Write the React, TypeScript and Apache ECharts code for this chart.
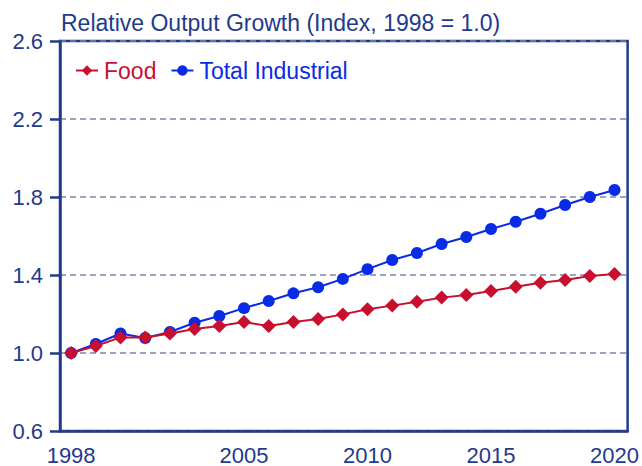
import React, { useEffect, useRef } from "react";
import * as echarts from "echarts";

const years = [1998, 1999, 2000, 2001, 2002, 2003, 2004, 2005, 2006, 2007, 2008, 2009, 2010, 2011, 2012, 2013, 2014, 2015, 2016, 2017, 2018, 2019, 2020];
const food = [1.0, 1.036, 1.08, 1.08, 1.1, 1.123, 1.138, 1.159, 1.138, 1.159, 1.174, 1.198, 1.224, 1.243, 1.263, 1.284, 1.297, 1.318, 1.34, 1.36, 1.374, 1.395, 1.405];
const industrial = [1.0, 1.046, 1.1, 1.077, 1.108, 1.155, 1.19, 1.23, 1.267, 1.306, 1.337, 1.38, 1.43, 1.477, 1.513, 1.559, 1.595, 1.636, 1.673, 1.714, 1.759, 1.8, 1.836];
const xTicks = [1998, 2005, 2010, 2015, 2020];
const titleText = "Relative Output Growth (Index, 1998 = 1.0)";

const NAVY = "#233A8B";
const RED = "#C8102E";
const BLUE = "#0A2BE6";
const FONT = "'Liberation Sans', Arial, sans-serif";

export default function App() {
  const ref = useRef<HTMLDivElement>(null);
  useEffect(() => {
    if (!ref.current) return;
    const chart = echarts.init(ref.current, null, { renderer: "svg" });
    chart.setOption({
      animation: false,
      title: {
        text: titleText,
        left: 56,
        top: 6,
        textStyle: { color: NAVY, fontSize: 23, fontWeight: "normal", fontFamily: FONT },
      },
      legend: {
        left: 70,
        top: 54,
        itemWidth: 22,
        itemHeight: 13,
        itemGap: 14,
        textStyle: { fontSize: 23, fontFamily: FONT, padding: [0, 0, 0, 1] },
        data: [
          { name: "Food", textStyle: { color: RED } },
          { name: "Total Industrial", textStyle: { color: BLUE } },
        ],
      },
      grid: {
        left: 60,
        right: 14,
        top: 41,
        bottom: 35,
        show: true,
        borderColor: NAVY,
        borderWidth: 2.5,
        containLabel: false,
      },
      xAxis: {
        type: "value",
        min: 1997.55,
        max: 2020.53,
        axisLine: { show: true, lineStyle: { color: NAVY, width: 2.5 } },
        axisTick: { show: false },
        splitLine: { show: false },
        axisLabel: {
          customValues: xTicks,
          color: NAVY,
          fontSize: 22,
          fontFamily: FONT,
          margin: 13,
          formatter: (v: number) => String(v),
        },
      },
      yAxis: {
        type: "value",
        min: 0.6,
        max: 2.6,
        interval: 0.4,
        axisLine: { show: true, lineStyle: { color: NAVY, width: 2.5 } },
        axisTick: { show: true, length: 10, lineStyle: { color: NAVY, width: 2.5 } },
        splitLine: { show: true, lineStyle: { color: "#7A86A8", type: [6, 4], width: 1.5 } },
        axisLabel: {
          color: NAVY,
          fontSize: 22,
          fontFamily: FONT,
          margin: 17,
          formatter: (v: number) => v.toFixed(1),
        },
      },
      series: [
        {
          name: "Food",
          type: "line",
          data: years.map((y, i) => [y, food[i]]),
          symbol: "diamond",
          symbolSize: 14,
          color: RED,
          lineStyle: { width: 2, color: RED },
          itemStyle: { color: RED },
          z: 3,
        },
        {
          name: "Total Industrial",
          type: "line",
          data: years.map((y, i) => [y, industrial[i]]),
          symbol: "circle",
          symbolSize: 12,
          color: BLUE,
          lineStyle: { width: 2, color: BLUE },
          itemStyle: { color: BLUE },
          z: 2,
        },
      ],
    });
    return () => chart.dispose();
  }, []);
  return <div ref={ref} style={{ width: 642, height: 466, position: "absolute", left: 0, top: 0 }} />;
}
